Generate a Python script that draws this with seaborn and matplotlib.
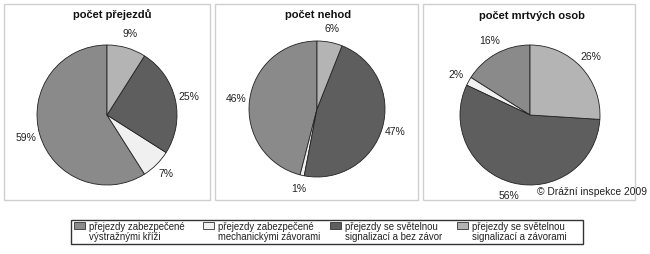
import matplotlib
matplotlib.use("Agg")
import matplotlib.pyplot as plt
from matplotlib.patches import Rectangle
import seaborn as sns

# ---- data ----
categories = [
    "přejezdy zabezpečené\nvýstražnými kříži",
    "přejezdy zabezpečené\nmechanickými závorami",
    "přejezdy se světelnou\nsignalizací a bez závor",
    "přejezdy se světelnou\nsignalizací a závorami",
]
titles = ["počet přejezdů", "počet nehod", "počet mrtvých osob"]
prejezdy = [59, 7, 25, 9]
nehody = [46, 1, 47, 6]
mrtvi = [16, 2, 56, 26]
series = [prejezdy, nehody, mrtvi]
credit = "© Drážní inspekce 2009"

sns.set_theme(style="white")
plt.rcParams["font.family"] = ["Liberation Sans", "DejaVu Sans"]

colors = ["#8a8a8a", "#f0f0f0", "#5e5e5e", "#b4b4b4"]

W, H = 650, 254
fig = plt.figure(figsize=(W / 100, H / 100), dpi=100)
fig.patch.set_facecolor("white")


def fx(x):
    return x / W


def fy(y):
    return 1 - y / H


# panel frames
panels = [(4, 4, 210, 200), (215, 4, 418, 200), (423, 4, 635, 200)]
for x0, y0, x1, y1 in panels:
    fig.patches.append(Rectangle((fx(x0), fy(y1)), fx(x1 - x0), (y1 - y0) / H,
                                 transform=fig.transFigure, fill=False,
                                 edgecolor="#cfcfcf", lw=1.0))

centers = [(107, 115, 70), (317, 109, 68), (530, 115, 70)]
title_pos = [(112, 15), (318, 15), (532, 16)]

for vals, (cx, cy, r), title, (tx, ty) in zip(series, centers, titles, title_pos):
    ax = fig.add_axes([fx(cx - r), fy(cy + r), 2 * r / W, 2 * r / H])
    ax.pie(vals, colors=colors, startangle=90, counterclock=True,
           autopct=lambda p: f"{int(round(p))}%", pctdistance=1.2,
           wedgeprops=dict(edgecolor="#222222", linewidth=0.6),
           textprops=dict(fontsize=7.5, color="#222222"))
    ax.set_xlim(-1, 1)
    ax.set_ylim(-1, 1)
    ax.set_aspect("auto")
    ax.axis("off")
    fig.text(fx(tx), fy(ty), title, ha="center", va="center",
             fontsize=8, fontweight="bold", color="#111111")

fig.text(fx(647), fy(192), credit, ha="right", va="center", fontsize=7.4, color="#222222")

# legend
lx0, ly0, lx1, ly1 = 71, 220, 583, 244
fig.patches.append(Rectangle((fx(lx0), fy(ly1)), fx(lx1 - lx0), (ly1 - ly0) / H,
                             transform=fig.transFigure, fill=False,
                             edgecolor="#333333", lw=1.0))
sq_x = [74, 203, 330, 457]
for col, lab, sx in zip(colors, categories, sq_x):
    fig.patches.append(Rectangle((fx(sx), fy(229)), fx(11), 7 / H,
                                 transform=fig.transFigure, facecolor=col,
                                 edgecolor="#333333", lw=0.6))
    fig.text(fx(sx + 15), fy(232), lab, ha="left", va="center",
             fontsize=6.9, color="#222222", linespacing=0.95)

fig.savefig("out.png", dpi=100, facecolor="white")
